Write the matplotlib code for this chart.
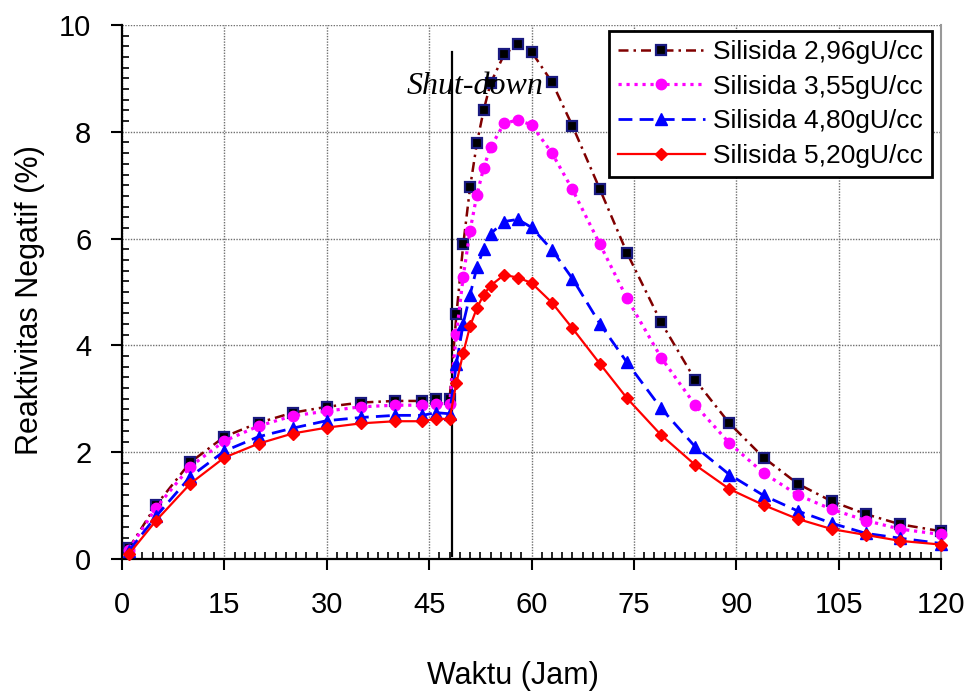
import matplotlib
matplotlib.use("Agg")
import matplotlib.pyplot as plt
from matplotlib.ticker import MultipleLocator

plt.rcParams['font.family'] = ['Liberation Sans', 'DejaVu Sans']

# waktu (jam) - shared by all series
waktu = [1, 5, 10, 15, 20, 25, 30, 35, 40, 44, 46, 48,
         49, 50, 51, 52, 53, 54, 56, 58, 60, 63, 66, 70, 74,
         79, 84, 89, 94, 99, 104, 109, 114, 120]

# reaktivitas negatif (%)
s296 = [0.20, 1.01, 1.81, 2.29, 2.55, 2.74, 2.85, 2.93, 2.96, 2.96, 3.00, 2.99,
        4.58, 5.89, 6.96, 7.79, 8.41, 8.91, 9.45, 9.64, 9.50, 8.93, 8.11, 6.93, 5.73,
        4.43, 3.35, 2.54, 1.90, 1.41, 1.08, 0.84, 0.65, 0.52]
s355 = [0.17, 0.96, 1.73, 2.21, 2.49, 2.68, 2.77, 2.85, 2.88, 2.88, 2.91, 2.91,
        4.22, 5.29, 6.15, 6.82, 7.33, 7.71, 8.16, 8.22, 8.13, 7.60, 6.92, 5.90, 4.88,
        3.77, 2.88, 2.17, 1.61, 1.20, 0.93, 0.72, 0.56, 0.46]
s480 = [0.15, 0.80, 1.54, 2.02, 2.29, 2.45, 2.59, 2.65, 2.69, 2.69, 2.74, 2.72,
        3.66, 4.41, 4.95, 5.46, 5.81, 6.09, 6.32, 6.36, 6.21, 5.79, 5.25, 4.41, 3.68,
        2.82, 2.10, 1.58, 1.19, 0.90, 0.67, 0.48, 0.39, 0.29]
s520 = [0.09, 0.72, 1.41, 1.90, 2.16, 2.35, 2.46, 2.54, 2.58, 2.58, 2.63, 2.62,
        3.30, 3.86, 4.36, 4.70, 4.95, 5.12, 5.32, 5.27, 5.17, 4.80, 4.32, 3.66, 3.01,
        2.32, 1.76, 1.31, 1.01, 0.75, 0.56, 0.45, 0.34, 0.27]

labels = ["Silisida 2,96gU/cc", "Silisida 3,55gU/cc",
          "Silisida 4,80gU/cc", "Silisida 5,20gU/cc"]

shutdown_x = 48.3
shutdown_top = 9.5

fig = plt.figure(figsize=(9.69, 6.93), dpi=100)
ax = fig.add_axes([122/969, 1-559/693, 819/969, 534/693])

ax.plot(waktu, s296, color='#800000', lw=1.8, ls=(0, (4, 2, 1, 2)),
        marker='s', ms=6.5, mfc='black', mec='#1a1a80', mew=1.6,
        label=labels[0], clip_on=False, zorder=3)
ax.plot(waktu, s355, color='#ff00ff', lw=2.3, ls=(0, (1, 1.5)),
        marker='o', ms=7.5, mfc='#ff00ff', mec='#ff00ff',
        label=labels[1], clip_on=False, zorder=4)
ax.plot(waktu, s480, color='#0000ff', lw=2, ls=(0, (5, 2.6)),
        marker='^', ms=8.5, mfc='#0000ff', mec='#0000ff',
        label=labels[2], clip_on=False, zorder=5)
ax.plot(waktu, s520, color='#ff0000', lw=1.6, ls='-',
        marker='D', ms=6.5, mfc='#ff0000', mec='#ff0000',
        label=labels[3], clip_on=False, zorder=6)

# shut-down marker
ax.plot([shutdown_x, shutdown_x], [0.05, shutdown_top], color='black', lw=1.6, zorder=2)
ax.text(51.8, 8.71, "Shut-down", family=['Liberation Serif'], style='italic',
        fontsize=23, ha='center', va='baseline', zorder=7)

ax.set_xlim(0, 120)
ax.set_ylim(0, 10)
ax.xaxis.set_major_locator(MultipleLocator(15))
ax.xaxis.set_minor_locator(MultipleLocator(1.5))
ax.yaxis.set_major_locator(MultipleLocator(2))
ax.yaxis.set_minor_locator(MultipleLocator(0.2))

ax.grid(True, which='major', color='#707070', ls=(0, (1, 1)), lw=1)
ax.set_axisbelow(True)

ax.tick_params(which='major', direction='out', length=8, width=1.5,
               labelsize=21)
ax.tick_params(axis='x', which='major', pad=15)
ax.tick_params(axis='y', which='major', pad=14)
ax.tick_params(which='minor', direction='in', length=5, width=1.2)

for side in ['left', 'bottom']:
    ax.spines[side].set_linewidth(1.6)
ax.spines['top'].set_visible(False)
ax.spines['right'].set_color('#999999')
ax.spines['right'].set_linewidth(1.5)

ax.set_xlabel("Waktu (Jam)", fontsize=22)
ax.xaxis.set_label_coords(0.477, -0.219)
ax.xaxis.label.set_va('center')
ax.set_ylabel("Reaktivitas Negatif (%)", fontsize=22)
ax.yaxis.set_label_coords(-0.112, 0.485)
ax.yaxis.label.set_va('center')

leg = ax.legend(loc='upper right', bbox_to_anchor=(0.989, 0.989),
                borderaxespad=0, fontsize=19, frameon=True, fancybox=False,
                handlelength=3.3, handletextpad=0.3, labelspacing=0.4,
                borderpad=0.35)
leg.get_frame().set_edgecolor('black')
leg.get_frame().set_linewidth(2)
leg.get_frame().set_alpha(1)
leg.set_zorder(10)

fig.savefig("out.png", dpi=100)
